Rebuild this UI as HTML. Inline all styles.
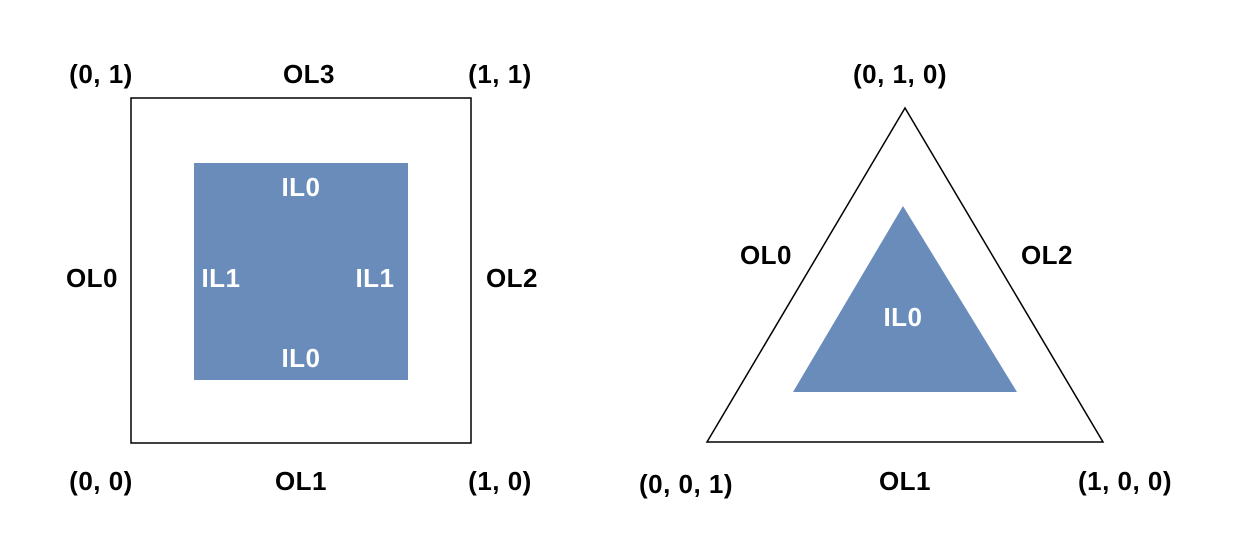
<!DOCTYPE html>
<html>
<head>
<meta charset="utf-8">
<style>
html,body{margin:0;padding:0;background:#fff;}
svg{display:block;}
text{font-family:"Liberation Sans",Arial,sans-serif;font-weight:bold;font-size:26px;letter-spacing:0.5px;}
</style>
</head>
<body>
<svg width="1238" height="552" viewBox="0 0 1238 552">
  <g>
    <rect x="131" y="98" width="340" height="345" fill="none" stroke="#000" stroke-width="1.5"/>
    <rect x="194" y="163" width="214" height="217" fill="#6a8cbb"/>
    <g text-anchor="middle" dominant-baseline="central" fill="#000">
      <text x="101" y="74">(0, 1)</text>
      <text x="309" y="74">OL3</text>
      <text x="500" y="74">(1, 1)</text>
      <text x="92" y="278">OL0</text>
      <text x="512" y="278">OL2</text>
      <text x="101" y="481">(0, 0)</text>
      <text x="301" y="481">OL1</text>
      <text x="500" y="481">(1, 0)</text>
    </g>
    <g text-anchor="middle" dominant-baseline="central" fill="#fff">
      <text x="301" y="187">IL0</text>
      <text x="221" y="278">IL1</text>
      <text x="375" y="278">IL1</text>
      <text x="301" y="358">IL0</text>
    </g>
  </g>
  <g>
    <polygon points="905,108 707,442 1103,442" fill="none" stroke="#000" stroke-width="1.5"/>
    <polygon points="903,206 793,392 1017,392" fill="#6a8cbb"/>
    <g text-anchor="middle" dominant-baseline="central" fill="#000">
      <text x="900" y="74">(0, 1, 0)</text>
      <text x="766" y="255">OL0</text>
      <text x="1047" y="255">OL2</text>
      <text x="686" y="484">(0, 0, 1)</text>
      <text x="905" y="481">OL1</text>
      <text x="1125" y="481">(1, 0, 0)</text>
    </g>
    <text x="903" y="317" text-anchor="middle" dominant-baseline="central" fill="#fff">IL0</text>
  </g>
</svg>
</body>
</html>
